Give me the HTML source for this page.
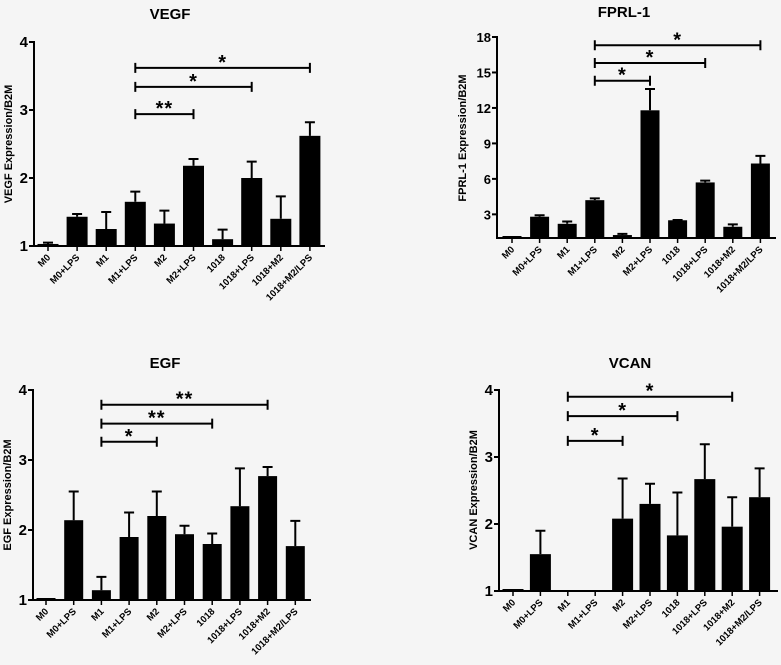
<!DOCTYPE html>
<html><head><meta charset="utf-8"><style>
html,body{margin:0;padding:0;background:#f5f5f5;}
svg{display:block;font-family:"Liberation Sans",Arial,sans-serif;}
</style></head><body>
<svg id="fig" width="781" height="665" viewBox="0 0 781 665" xmlns="http://www.w3.org/2000/svg">
<rect x="0" y="0" width="781" height="665" fill="#f5f5f5"/>
</svg>
<script>
const categories = ["M0","M0+LPS","M1","M1+LPS","M2","M2+LPS","1018","1018+LPS","1018+M2","1018+M2/LPS"];

const vegfMeans = [1.03,1.43,1.25,1.65,1.33,2.18,1.10,2.00,1.40,2.62];
const vegfErrs  = [0.02,0.04,0.25,0.15,0.19,0.10,0.14,0.24,0.33,0.20];
const vegfTicks = [1,2,3,4];
const vegfSig   = [[3,5,"**",2.94],[3,7,"*",3.34],[3,9,"*",3.62]];

const fprlMeans = [1.05,2.80,2.20,4.20,1.25,11.80,2.50,5.70,1.95,7.30];
const fprlErrs  = [0.02,0.12,0.20,0.15,0.10,1.80,0.02,0.15,0.20,0.65];
const fprlTicks = [3,6,9,12,15,18];
const fprlSig   = [[3,5,"*",14.3],[3,7,"*",15.8],[3,9,"*",17.3]];

const egfMeans = [1.01,2.14,1.14,1.90,2.20,1.94,1.80,2.34,2.77,1.77];
const egfErrs  = [0.01,0.41,0.19,0.35,0.35,0.12,0.15,0.54,0.13,0.36];
const egfTicks = [1,2,3,4];
const egfSig   = [[2,4,"*",3.26],[2,6,"**",3.52],[2,8,"**",3.79]];

const vcanMeans = [1.01,1.55,null,null,2.08,2.30,1.83,2.67,1.96,2.40];
const vcanErrs  = [0.01,0.35,0,0,0.60,0.30,0.64,0.52,0.44,0.43];
const vcanTicks = [1,2,3,4];
const vcanSig   = [[2,4,"*",3.24],[2,6,"*",3.61],[2,8,"*",3.90]];

const NS="http://www.w3.org/2000/svg";
const svg=document.getElementById('fig');
function mk(tag,attrs,parent){const e=document.createElementNS(NS,tag);for(const k in attrs)e.setAttribute(k,attrs[k]);(parent||svg).appendChild(e);return e;}

function drawChart(cfg,means,errs,ticks,sig){
  const g=mk('g',{});
  
  
  const y=v=>cfg.y0-(v-cfg.min)/(cfg.max-cfg.min)*(cfg.y0-cfg.y1);
  const x=i=>cfg.xc0+i*cfg.step;
  const t=mk('text',{x:cfg.tx,y:cfg.ty,'text-anchor':'middle','font-size':15,'font-weight':'bold',fill:'#000'},g);
  t.textContent=cfg.title;
  
  
  means.forEach((m,i)=>{
    if(m===null)return;
    const top=Math.min(y(m),cfg.y0-2);
    const b=mk('rect',{x:x(i)-cfg.bw/2,y:top,width:cfg.bw,height:cfg.y0-top,fill:'#000'},g);
    
    
    const et=y(m+errs[i]);
    if(errs[i]>0.015){
      const e=mk('path',{d:`M${x(i)} ${top} V${et} M${x(i)-5} ${et} H${x(i)+5}`,stroke:'#000','stroke-width':2,fill:'none'},g);
      
      
    }
  });
  const ax=mk('path',{d:`M${cfg.ax} ${cfg.y1-1} V${cfg.y0} H${cfg.xend}`,stroke:'#000','stroke-width':2,fill:'none'},g);
  
  
  ticks.forEach(v=>{
    mk('line',{x1:cfg.ax-5,x2:cfg.ax,y1:y(v),y2:y(v),stroke:'#000','stroke-width':2},g);
    const tl=mk('text',{x:cfg.ax-6,y:y(v)+5,'text-anchor':'end','font-size':cfg.tfs,'font-weight':'bold'},g);
    tl.textContent=v;
    
    
  });
  categories.forEach((c,i)=>{
    mk('line',{x1:x(i),x2:x(i),y1:cfg.y0,y2:cfg.y0+5,stroke:'#000','stroke-width':1.5},g);
    const cl=mk('text',{x:x(i)+3,y:cfg.y0+12,'text-anchor':'end','font-size':9.5,'font-weight':'bold',transform:`rotate(-45 ${x(i)+3} ${cfg.y0+12})`},g);
    cl.textContent=c;
    
    
  });
  const yt=mk('text',{x:cfg.ytx,y:cfg.yty,'text-anchor':'middle','font-size':11,'font-weight':'bold',transform:`rotate(-90 ${cfg.ytx} ${cfg.yty})`},g);
  yt.textContent=cfg.ylabel;
  
  
  sig.forEach(s=>{
    const yy=y(s[3]),a=x(s[0]),b=x(s[1]);
    const br=mk('path',{d:`M${a} ${yy-5} V${yy+5} M${a} ${yy} H${b} M${b} ${yy-5} V${yy+5}`,stroke:'#000','stroke-width':2,fill:'none'},g);
    
    
    const st=mk('text',{x:(a+b)/2,y:yy+1,'text-anchor':'middle','font-size':20,'font-weight':'bold','letter-spacing':'1'},g);
    st.textContent=s[2];
    
    
  });
}

drawChart({id:'vegf',title:'VEGF',tx:170,ty:19,min:1,max:4,y0:246,y1:42,ax:34,xend:325,xc0:48,step:29.1,bw:21,tfs:15,ytx:12,yty:144,ylabel:'VEGF Expression/B2M'},vegfMeans,vegfErrs,vegfTicks,vegfSig);
drawChart({id:'fprl',title:'FPRL-1',tx:624,ty:17,min:1,max:18,y0:238,y1:37,ax:497,xend:776,xc0:512,step:27.6,bw:19,tfs:13,ytx:466,yty:138,ylabel:'FPRL-1 Expression/B2M'},fprlMeans,fprlErrs,fprlTicks,fprlSig);
drawChart({id:'egf',title:'EGF',tx:165,ty:368,min:1,max:4,y0:600,y1:390,ax:33,xend:311,xc0:46,step:27.7,bw:19,tfs:15,ytx:11,yty:495,ylabel:'EGF Expression/B2M'},egfMeans,egfErrs,egfTicks,egfSig);
drawChart({id:'vcan',title:'VCAN',tx:630,ty:368,min:1,max:4,y0:591,y1:390,ax:499,xend:778,xc0:513,step:27.4,bw:21,tfs:15,ytx:477,yty:490,ylabel:'VCAN Expression/B2M'},vcanMeans,vcanErrs,vcanTicks,vcanSig);
</script>
</body></html>
